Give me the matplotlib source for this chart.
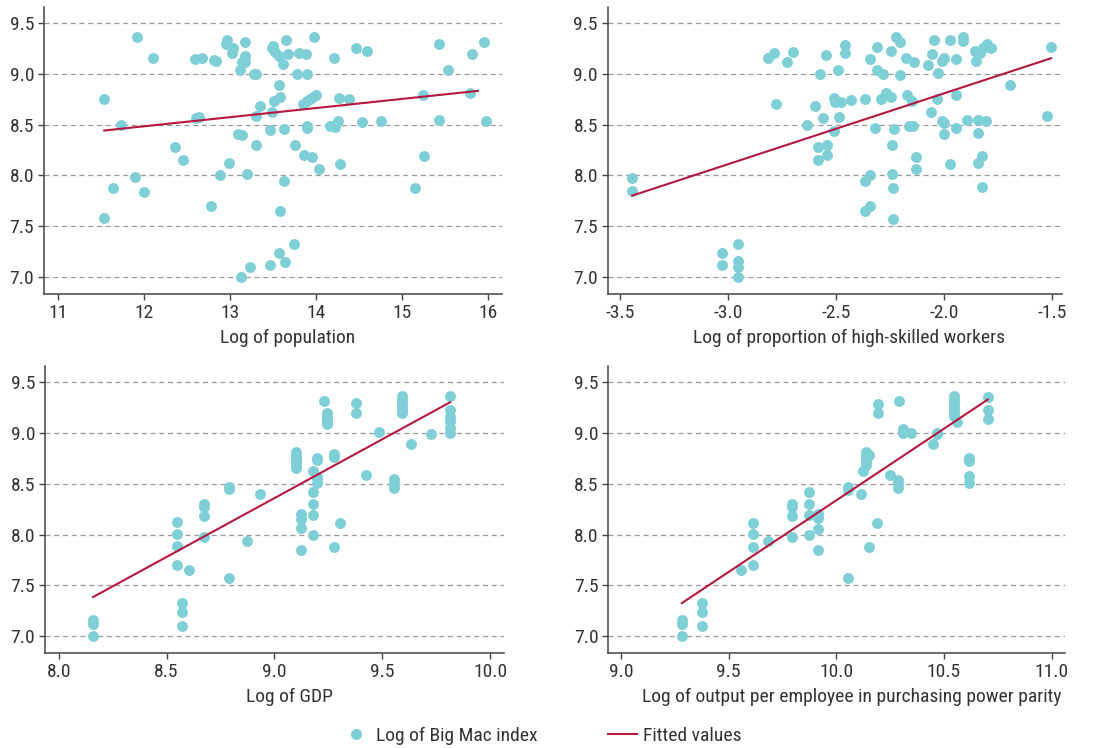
import matplotlib
matplotlib.use("Agg")
import matplotlib.pyplot as plt
from matplotlib.lines import Line2D

plt.rcParams['font.family'] = ['Roboto Condensed', 'Archivo Narrow', 'Liberation Sans Narrow',
                               'Liberation Sans', 'DejaVu Sans']

# Log of Big Mac index vs. log of population
pop_pts = [(11.54, 8.75), (11.74, 8.50), (11.54, 7.575), (11.64, 7.88), (11.90, 7.98), (12.00, 7.84),
           (11.92, 9.365), (12.11, 9.155), (12.36, 8.28), (12.45, 8.15), (12.60, 9.15), (12.68, 9.155),
           (12.61, 8.567), (12.64, 8.58), (12.81, 9.14), (12.84, 9.13), (12.78, 7.70), (12.88, 8.0),
           (12.97, 9.33), (12.96, 9.30), (13.04, 9.26), (13.02, 9.21), (12.99, 8.12), (13.12, 9.04),
           (13.18, 9.32), (13.18, 9.18), (13.17, 9.115), (13.14, 9.115), (13.09, 8.41), (13.14, 8.40),
           (13.20, 8.01), (13.13, 7.0), (13.23, 7.10), (13.28, 9.0), (13.30, 9.0), (13.35, 8.685),
           (13.30, 8.59), (13.30, 8.30), (13.47, 7.115), (13.57, 7.23), (13.64, 7.15), (13.75, 7.32),
           (13.58, 7.65), (13.63, 7.94), (13.49, 9.26), (13.50, 9.28), (13.52, 9.22), (13.57, 9.175),
           (13.62, 9.10), (13.65, 9.33), (13.68, 9.20), (13.80, 9.21), (13.88, 9.20), (13.78, 9.0),
           (13.90, 9.0), (13.98, 9.365), (13.57, 8.895), (13.58, 8.77), (13.51, 8.73), (13.49, 8.625),
           (13.47, 8.445), (13.63, 8.46), (13.76, 8.30), (13.86, 8.20), (13.95, 8.18), (14.04, 8.06),
           (13.85, 8.705), (13.89, 8.73), (13.93, 8.75), (13.96, 8.775), (14.00, 8.79), (13.89, 8.49),
           (13.89, 8.47), (14.16, 8.485), (14.22, 8.475), (14.25, 8.535), (14.27, 8.76), (14.38, 8.75),
           (14.28, 8.11), (14.21, 9.155), (14.46, 9.26), (14.59, 9.23), (14.53, 8.525), (14.75, 8.54),
           (15.15, 7.88), (15.25, 8.19), (15.24, 8.79), (15.43, 8.545), (15.43, 9.295), (15.53, 9.04),
           (15.81, 9.20), (15.79, 8.81), (15.95, 9.32), (15.98, 8.54)]
pop_fit_x = [11.54, 15.88]
pop_fit_y = [8.442, 8.833]

# vs. log of proportion of high-skilled workers
skill_pts = [(-3.444, 7.976), (-3.444, 7.844), (-3.027, 7.23), (-3.027, 7.115), (-2.953, 7.325),
             (-2.953, 7.16), (-2.956, 7.10), (-2.956, 7.0), (-2.817, 9.155), (-2.787, 9.21),
             (-2.729, 9.12), (-2.70, 9.215), (-2.780, 8.705), (-2.633, 8.50), (-2.596, 8.68),
             (-2.562, 8.567), (-2.574, 9.0), (-2.546, 9.185), (-2.583, 8.278), (-2.543, 8.30),
             (-2.583, 8.153), (-2.543, 8.20), (-2.509, 8.44), (-2.509, 8.764), (-2.503, 8.72),
             (-2.477, 8.72), (-2.485, 8.577), (-2.492, 9.037), (-2.457, 9.29), (-2.460, 9.21),
             (-2.432, 8.74), (-2.364, 8.755), (-2.341, 9.15), (-2.311, 9.27), (-2.311, 9.04),
             (-2.28, 9.0), (-2.319, 8.47), (-2.364, 7.94), (-2.341, 8.0), (-2.364, 7.65),
             (-2.341, 7.70), (-2.29, 8.757), (-2.268, 8.81), (-2.243, 8.777), (-2.243, 9.224),
             (-2.223, 9.365), (-2.203, 9.32), (-2.203, 8.99), (-2.233, 8.46), (-2.242, 8.30),
             (-2.242, 8.015), (-2.237, 7.877), (-2.237, 7.57), (-2.175, 9.16), (-2.137, 9.12),
             (-2.169, 8.79), (-2.149, 8.738), (-2.162, 8.485), (-2.141, 8.49), (-2.129, 8.18),
             (-2.129, 8.058), (-2.073, 9.093), (-2.055, 9.197), (-2.046, 9.33), (-2.027, 9.01),
             (-2.033, 8.754), (-2.06, 8.626), (-2.009, 9.13), (-1.999, 9.16), (-1.971, 9.33),
             (-2.009, 8.54), (-1.998, 8.52), (-1.999, 8.403), (-1.944, 9.15), (-1.944, 8.79),
             (-1.942, 8.47), (-1.971, 8.114), (-1.910, 9.362), (-1.913, 9.326), (-1.891, 8.544),
             (-1.855, 9.23), (-1.850, 9.13), (-1.832, 9.208), (-1.817, 9.257), (-1.798, 9.30),
             (-1.783, 9.257), (-1.840, 8.544), (-1.803, 8.534), (-1.840, 8.42), (-1.842, 8.123),
             (-1.821, 8.19), (-1.821, 7.884), (-1.693, 8.895), (-1.523, 8.59), (-1.503, 9.263)]
skill_fit_x = [-3.444, -1.503]
skill_fit_y = [7.80, 9.155]

# vs. log of GDP
gdp_pts = [(8.16, 7.0), (8.16, 7.115), (8.16, 7.16),
           (8.573, 7.328), (8.573, 7.233), (8.573, 7.10),
           (8.549, 8.12), (8.549, 8.008), (8.549, 7.887), (8.549, 7.70), (8.603, 7.65),
           (8.675, 8.30), (8.675, 8.275), (8.675, 8.18), (8.675, 7.98),
           (8.791, 8.472), (8.791, 8.446), (8.791, 7.575), (8.873, 7.94), (8.934, 8.40),
           (9.10, 8.817), (9.10, 8.784), (9.10, 8.75), (9.10, 8.718), (9.10, 8.685), (9.10, 8.652),
           (9.124, 8.20), (9.124, 8.15), (9.124, 8.061), (9.124, 7.85),
           (9.178, 8.626), (9.178, 8.416), (9.178, 8.30), (9.178, 8.189), (9.178, 8.0),
           (9.196, 8.75), (9.196, 8.735), (9.196, 8.57), (9.196, 8.554), (9.196, 8.505),
           (9.23, 9.32), (9.244, 9.20), (9.244, 9.16), (9.244, 9.13), (9.244, 9.09),
           (9.277, 8.79), (9.277, 8.76), (9.277, 7.874), (9.305, 8.11),
           (9.379, 9.293), (9.379, 9.20), (9.427, 8.587), (9.487, 9.007),
           (9.556, 8.547), (9.556, 8.505), (9.556, 8.456),
           (9.592, 9.365), (9.592, 9.326), (9.592, 9.293), (9.592, 9.26), (9.592, 9.227), (9.592, 9.195),
           (9.632, 8.895), (9.727, 8.994),
           (9.815, 9.365), (9.815, 9.227), (9.815, 9.155), (9.815, 9.119), (9.815, 9.047), (9.815, 9.004)]
gdp_fit_x = [8.159, 9.815]
gdp_fit_y = [7.384, 9.303]

# vs. log of output per employee (PPP)
ppp_pts = [(9.283, 7.158), (9.283, 7.118), (9.283, 6.997),
           (9.378, 7.329), (9.378, 7.233), (9.378, 7.10), (9.557, 7.65),
           (9.615, 8.117), (9.615, 8.01), (9.615, 7.88), (9.615, 7.70), (9.683, 7.94),
           (9.793, 8.30), (9.793, 8.268), (9.793, 8.18), (9.793, 7.98),
           (9.875, 8.415), (9.875, 8.30), (9.875, 8.19), (9.875, 8.0),
           (9.915, 8.20), (9.915, 8.16), (9.915, 8.055), (9.915, 7.85),
           (10.056, 8.465), (10.056, 8.44), (10.056, 7.57), (10.115, 8.40), (10.122, 8.63),
           (10.14, 8.81), (10.14, 8.78), (10.14, 8.745), (10.14, 8.71), (10.14, 8.68), (10.153, 8.784),
           (10.152, 7.88), (10.195, 9.286), (10.195, 9.194), (10.19, 8.11), (10.249, 8.587),
           (10.285, 8.54), (10.285, 8.50), (10.285, 8.46), (10.291, 9.32),
           (10.311, 9.037), (10.311, 8.997), (10.348, 9.004), (10.447, 8.892),
           (10.466, 9.0), (10.466, 8.99),
           (10.548, 9.369), (10.548, 9.335), (10.548, 9.30), (10.548, 9.27), (10.548, 9.235),
           (10.548, 9.20), (10.548, 9.17), (10.559, 9.106),
           (10.618, 8.754), (10.618, 8.728), (10.618, 8.58), (10.618, 8.505),
           (10.706, 9.359), (10.706, 9.227), (10.706, 9.139)]
ppp_fit_x = [9.283, 10.703]
ppp_fit_y = [7.325, 9.329]

panels = [
    (pop_pts, pop_fit_x, pop_fit_y, "Log of population", (10.84, 16.16), [11, 12, 13, 14, 15, 16],
     [0.0399, 0.607, 0.4156, 0.3836]),
    (skill_pts, skill_fit_x, skill_fit_y, "Log of proportion of high-skilled workers", (-3.558, -1.454),
     [-3.5, -3.0, -2.5, -2.0, -1.5], [0.5514, 0.607, 0.412, 0.3836]),
    (gdp_pts, gdp_fit_x, gdp_fit_y, "Log of GDP", (7.936, 10.065), [8.0, 8.5, 9.0, 9.5, 10.0],
     [0.0408, 0.1266, 0.4166, 0.3841]),
    (ppp_pts, ppp_fit_x, ppp_fit_y, "Log of output per employee in purchasing power parity", (8.941, 11.062),
     [9.0, 9.5, 10.0, 10.5, 11.0], [0.552, 0.1266, 0.4144, 0.3841]),
]

dot_color = "#7fcfd6"
fit_color = "#b5173f"

fig = plt.figure(figsize=(11.02, 7.48), dpi=100)
for pts, fx, fy, label, xlim, xt, pos in panels:
    ax = fig.add_axes(pos)
    xs = [p[0] for p in pts]
    ys = [p[1] for p in pts]
    ax.scatter(xs, ys, s=62, color=dot_color, linewidths=0, zorder=3)
    ax.plot(fx, fy, color=fit_color, lw=1.5, zorder=4)
    ax.set_xlim(xlim)
    ax.set_ylim(6.83, 9.66)
    ax.set_xticks(xt)
    if xt[0] == 11:
        ax.set_xticklabels([str(v) for v in xt])
    else:
        ax.set_xticklabels(["%.1f" % v for v in xt])
    ax.set_yticks([7.0, 7.5, 8.0, 8.5, 9.0, 9.5])
    ax.set_yticklabels(["7.0", "7.5", "8.0", "8.5", "9.0", "9.5"])
    ax.grid(axis="y", color="#9a9a9a", linestyle=(0, (4, 3)), lw=0.9)
    ax.set_axisbelow(True)
    for s in ["top", "right"]:
        ax.spines[s].set_visible(False)
    for s in ["left", "bottom"]:
        ax.spines[s].set_color("#444444")
        ax.spines[s].set_linewidth(1.1)
    ax.tick_params(length=4, width=1, color="#444444", labelsize=14, labelcolor="#333333", pad=3)
    ax.set_xlabel(label, fontsize=14, color="#333333")
    ax.xaxis.set_label_coords(0.532, -0.122, transform=ax.transAxes)
    ax.xaxis.label.set_va("top")

handles = [Line2D([], [], marker="o", linestyle="none", markersize=8, markerfacecolor=dot_color,
                  markeredgewidth=0, label="Log of Big Mac index"),
           Line2D([], [], color=fit_color, lw=1.5, label="Fitted values")]
fig.legend(handles=handles, loc="center", bbox_to_anchor=(0.491, 0.016), ncol=2, frameon=False,
           fontsize=14, handlelength=1.5, handletextpad=0.3, columnspacing=3.6,
           labelcolor="#333333")

fig.savefig("out.png", dpi=100, facecolor="white")
